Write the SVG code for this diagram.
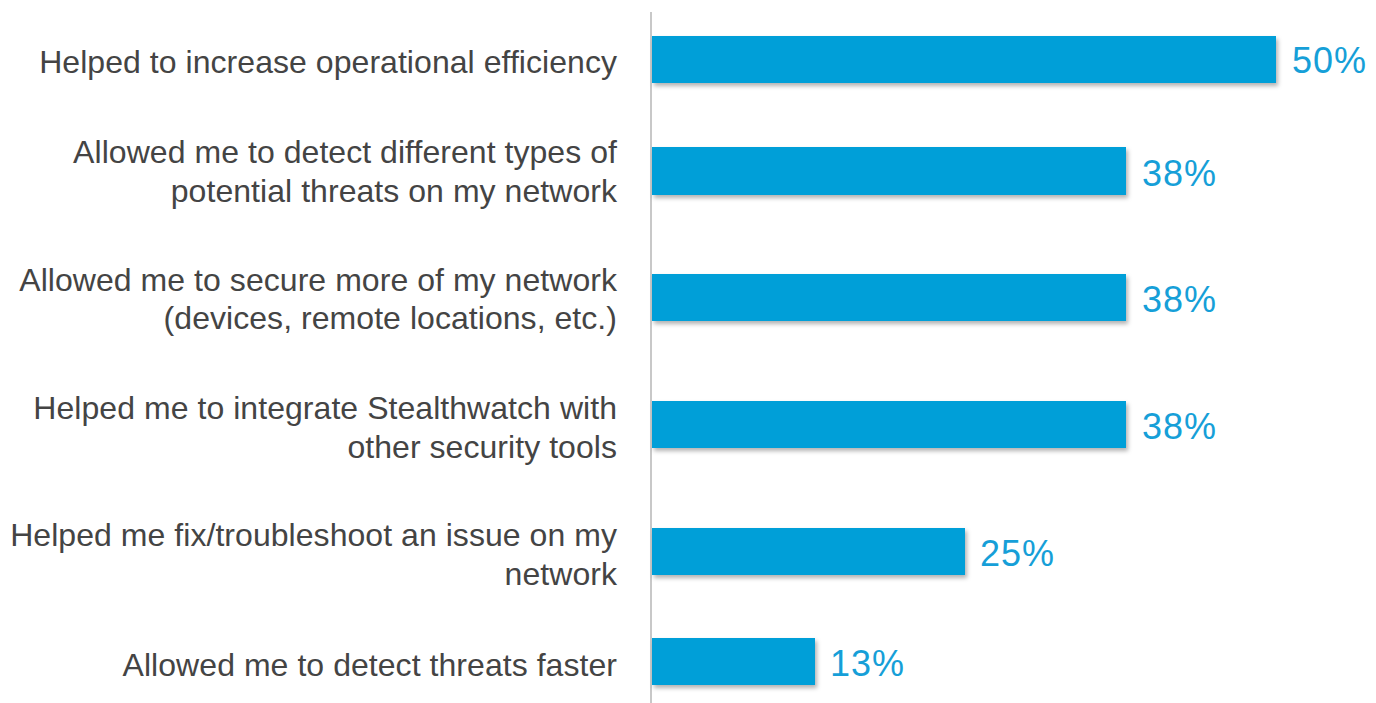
<svg xmlns="http://www.w3.org/2000/svg" width="1376" height="703" viewBox="0 0 1376 703">
<defs>
<style>
.lbl{font-family:"Liberation Sans",Arial,sans-serif;font-size:32px;letter-spacing:0.05px;fill:#444444;text-anchor:end}
.val{font-family:"Liberation Sans",Arial,sans-serif;font-size:36px;letter-spacing:1px;fill:#169fd8}
.bar{fill:#059fd8;filter:url(#sh)}
</style>
<filter id="sh" x="-5%" y="-20%" width="115%" height="160%">
<feDropShadow dx="2" dy="3" stdDeviation="2" flood-color="#000" flood-opacity="0.3"/>
</filter>
</defs>
<rect width="1376" height="703" fill="#fff"/>
<g id="axis"><line x1="651" y1="12" x2="651" y2="703" stroke="#c8c8c8" stroke-width="2"/></g>
<g id="row1">
<rect class="bar" x="652" y="36" width="624" height="47"/>
<text class="lbl" x="617" y="73">Helped to increase operational efficiency</text>
<text class="val" x="1292" y="73">50%</text>
</g>
<g id="row2">
<rect class="bar" x="652" y="147" width="474" height="48"/>
<text class="lbl" x="617" y="163">Allowed me to detect different types of</text>
<text class="lbl" x="617" y="202">potential threats on my network</text>
<text class="val" x="1142" y="186">38%</text>
</g>
<g id="row3">
<rect class="bar" x="652" y="274" width="474" height="47"/>
<text class="lbl" x="617" y="291">Allowed me to secure more of my network</text>
<text class="lbl" x="617" y="329">(devices, remote locations, etc.)</text>
<text class="val" x="1142" y="312">38%</text>
</g>
<g id="row4">
<rect class="bar" x="652" y="401" width="474" height="47"/>
<text class="lbl" x="617" y="419">Helped me to integrate Stealthwatch with</text>
<text class="lbl" x="617" y="458">other security tools</text>
<text class="val" x="1142" y="439">38%</text>
</g>
<g id="row5">
<rect class="bar" x="652" y="528" width="313" height="47"/>
<text class="lbl" x="617" y="546">Helped me fix/troubleshoot an issue on my</text>
<text class="lbl" x="617" y="585">network</text>
<text class="val" x="980" y="566">25%</text>
</g>
<g id="row6">
<rect class="bar" x="652" y="638" width="163" height="47"/>
<text class="lbl" x="617" y="676">Allowed me to detect threats faster</text>
<text class="val" x="830" y="676">13%</text>
</g>
</svg>
